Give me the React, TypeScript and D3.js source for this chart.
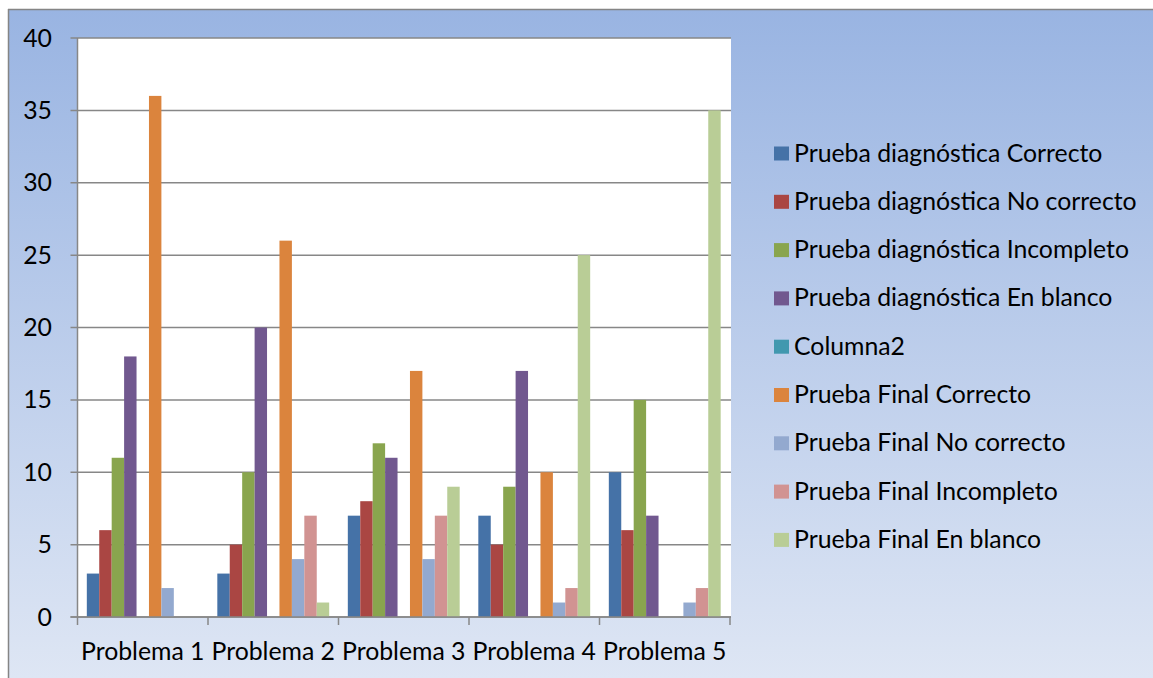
import React from "react";
import * as d3 from "d3";

const categories = ["Problema 1", "Problema 2", "Problema 3", "Problema 4", "Problema 5"];

const seriesNames = [
  "Prueba diagnóstica Correcto",
  "Prueba diagnóstica No correcto",
  "Prueba diagnóstica Incompleto",
  "Prueba diagnóstica En blanco",
  "Columna2",
  "Prueba Final Correcto",
  "Prueba Final No correcto",
  "Prueba Final Incompleto",
  "Prueba Final En blanco",
];

// values per series, one entry per problem
const diagCorrecto = [3, 3, 7, 7, 10];
const diagNoCorrecto = [6, 5, 8, 5, 6];
const diagIncompleto = [11, 10, 12, 9, 15];
const diagEnBlanco = [18, 20, 11, 17, 7];
const columna2 = [0, 0, 0, 0, 0];
const finalCorrecto = [36, 26, 17, 10, 0];
const finalNoCorrecto = [2, 4, 4, 1, 1];
const finalIncompleto = [0, 7, 7, 2, 2];
const finalEnBlanco = [0, 1, 9, 25, 35];

const seriesValues = [
  diagCorrecto,
  diagNoCorrecto,
  diagIncompleto,
  diagEnBlanco,
  columna2,
  finalCorrecto,
  finalNoCorrecto,
  finalIncompleto,
  finalEnBlanco,
];

const colors = [
  "#4572A7",
  "#AA4643",
  "#89A54E",
  "#71588F",
  "#4198AF",
  "#DB843D",
  "#93A9CF",
  "#D19392",
  "#B9CD96",
];

const yTicks = [0, 5, 10, 15, 20, 25, 30, 35, 40];

const W = 1153;
const H = 678;
const plot = { left: 77.5, right: 731, top: 38, bottom: 617 };
const FONT = "Lato, 'Noto Sans', sans-serif";
const FS = 24.8;

export default function App() {
  const y = d3.scaleLinear().domain([0, 40]).range([plot.bottom, plot.top]);
  const x0 = d3.scaleBand<string>().domain(categories).range([plot.left, plot.right - 1]).paddingInner(0).paddingOuter(0);
  const x1 = d3
    .scaleBand<string>()
    .domain(seriesNames)
    .range([0, x0.bandwidth()])
    .paddingInner(0)
    .paddingOuter(0.75);

  const legendX = 774;
  const legendY0 = 153.5;
  const legendStep = 48.3;

  return (
    <div style={{ position: "absolute", left: 0, top: 0 }}>
      <svg width={W} height={H} style={{ display: "block" }}>
        <defs>
          <linearGradient id="bg" x1="0" y1="0" x2="0" y2="1">
            <stop offset="0" stopColor="#99B4E2" />
            <stop offset="1" stopColor="#DEE6F4" />
          </linearGradient>
        </defs>
        <rect x={8} y={9} width={W - 8} height={H - 9} fill="url(#bg)" />
        <line x1={8} x2={W} y1={9.5} y2={9.5} stroke="#858585" strokeWidth={1.5} />
        <line x1={8.5} x2={8.5} y1={9} y2={H} stroke="#858585" strokeWidth={1.5} />

        {/* plot area */}
        <rect x={plot.left} y={plot.top} width={plot.right - plot.left} height={plot.bottom - plot.top} fill="#FFFFFF" />

        {/* gridlines and y ticks */}
        {yTicks.map((t) => (
          <g key={t}>
            <line x1={plot.left - 7} x2={plot.right} y1={y(t)} y2={y(t)} stroke="#878787" strokeWidth={1.5} />
            <text
              x={52}
              y={y(t) - 1}
              textAnchor="end"
              dominantBaseline="central"
              fontFamily={FONT}
              fontSize={FS}
              fill="#000"
            >
              {t}
            </text>
          </g>
        ))}

        {/* bars */}
        {categories.map((c, ci) => (
          <g key={c} transform={`translate(${x0(c)},0)`}>
            {seriesNames.map((s, si) => {
              const v = seriesValues[si][ci];
              if (!v) return null;
              return (
                <rect
                  key={s}
                  x={x1(s)}
                  y={y(v)}
                  width={x1.bandwidth()}
                  height={y(0) - y(v)}
                  fill={colors[si]}
                />
              );
            })}
          </g>
        ))}

        {/* axes */}
        <line x1={plot.left} x2={plot.left} y1={plot.top} y2={plot.bottom + 8} stroke="#878787" strokeWidth={1.5} />
        <line x1={plot.left - 7} x2={plot.right} y1={plot.bottom} y2={plot.bottom} stroke="#878787" strokeWidth={1.5} />
        {categories.map((c) => (
          <line
            key={"t" + c}
            x1={(x0(c) as number) + x0.bandwidth()}
            x2={(x0(c) as number) + x0.bandwidth()}
            y1={plot.bottom}
            y2={plot.bottom + 8}
            stroke="#878787"
            strokeWidth={1.5}
          />
        ))}
        {categories.map((c) => (
          <text
            key={"l" + c}
            x={(x0(c) as number) + x0.bandwidth() / 2}
            y={650}
            textAnchor="middle"
            dominantBaseline="central"
            fontFamily={FONT}
            fontSize={FS}
            fill="#000"
          >
            {c}
          </text>
        ))}

        {/* legend */}
        {seriesNames.map((s, i) => (
          <g key={"lg" + s} transform={`translate(${legendX},${legendY0 + i * legendStep})`}>
            <rect x={0} y={-7} width={15} height={14} fill={colors[i]} />
            <text x={20} y={-1.5} dominantBaseline="central" fontFamily={FONT} fontSize={FS} fill="#000">
              {s}
            </text>
          </g>
        ))}
      </svg>
    </div>
  );
}
